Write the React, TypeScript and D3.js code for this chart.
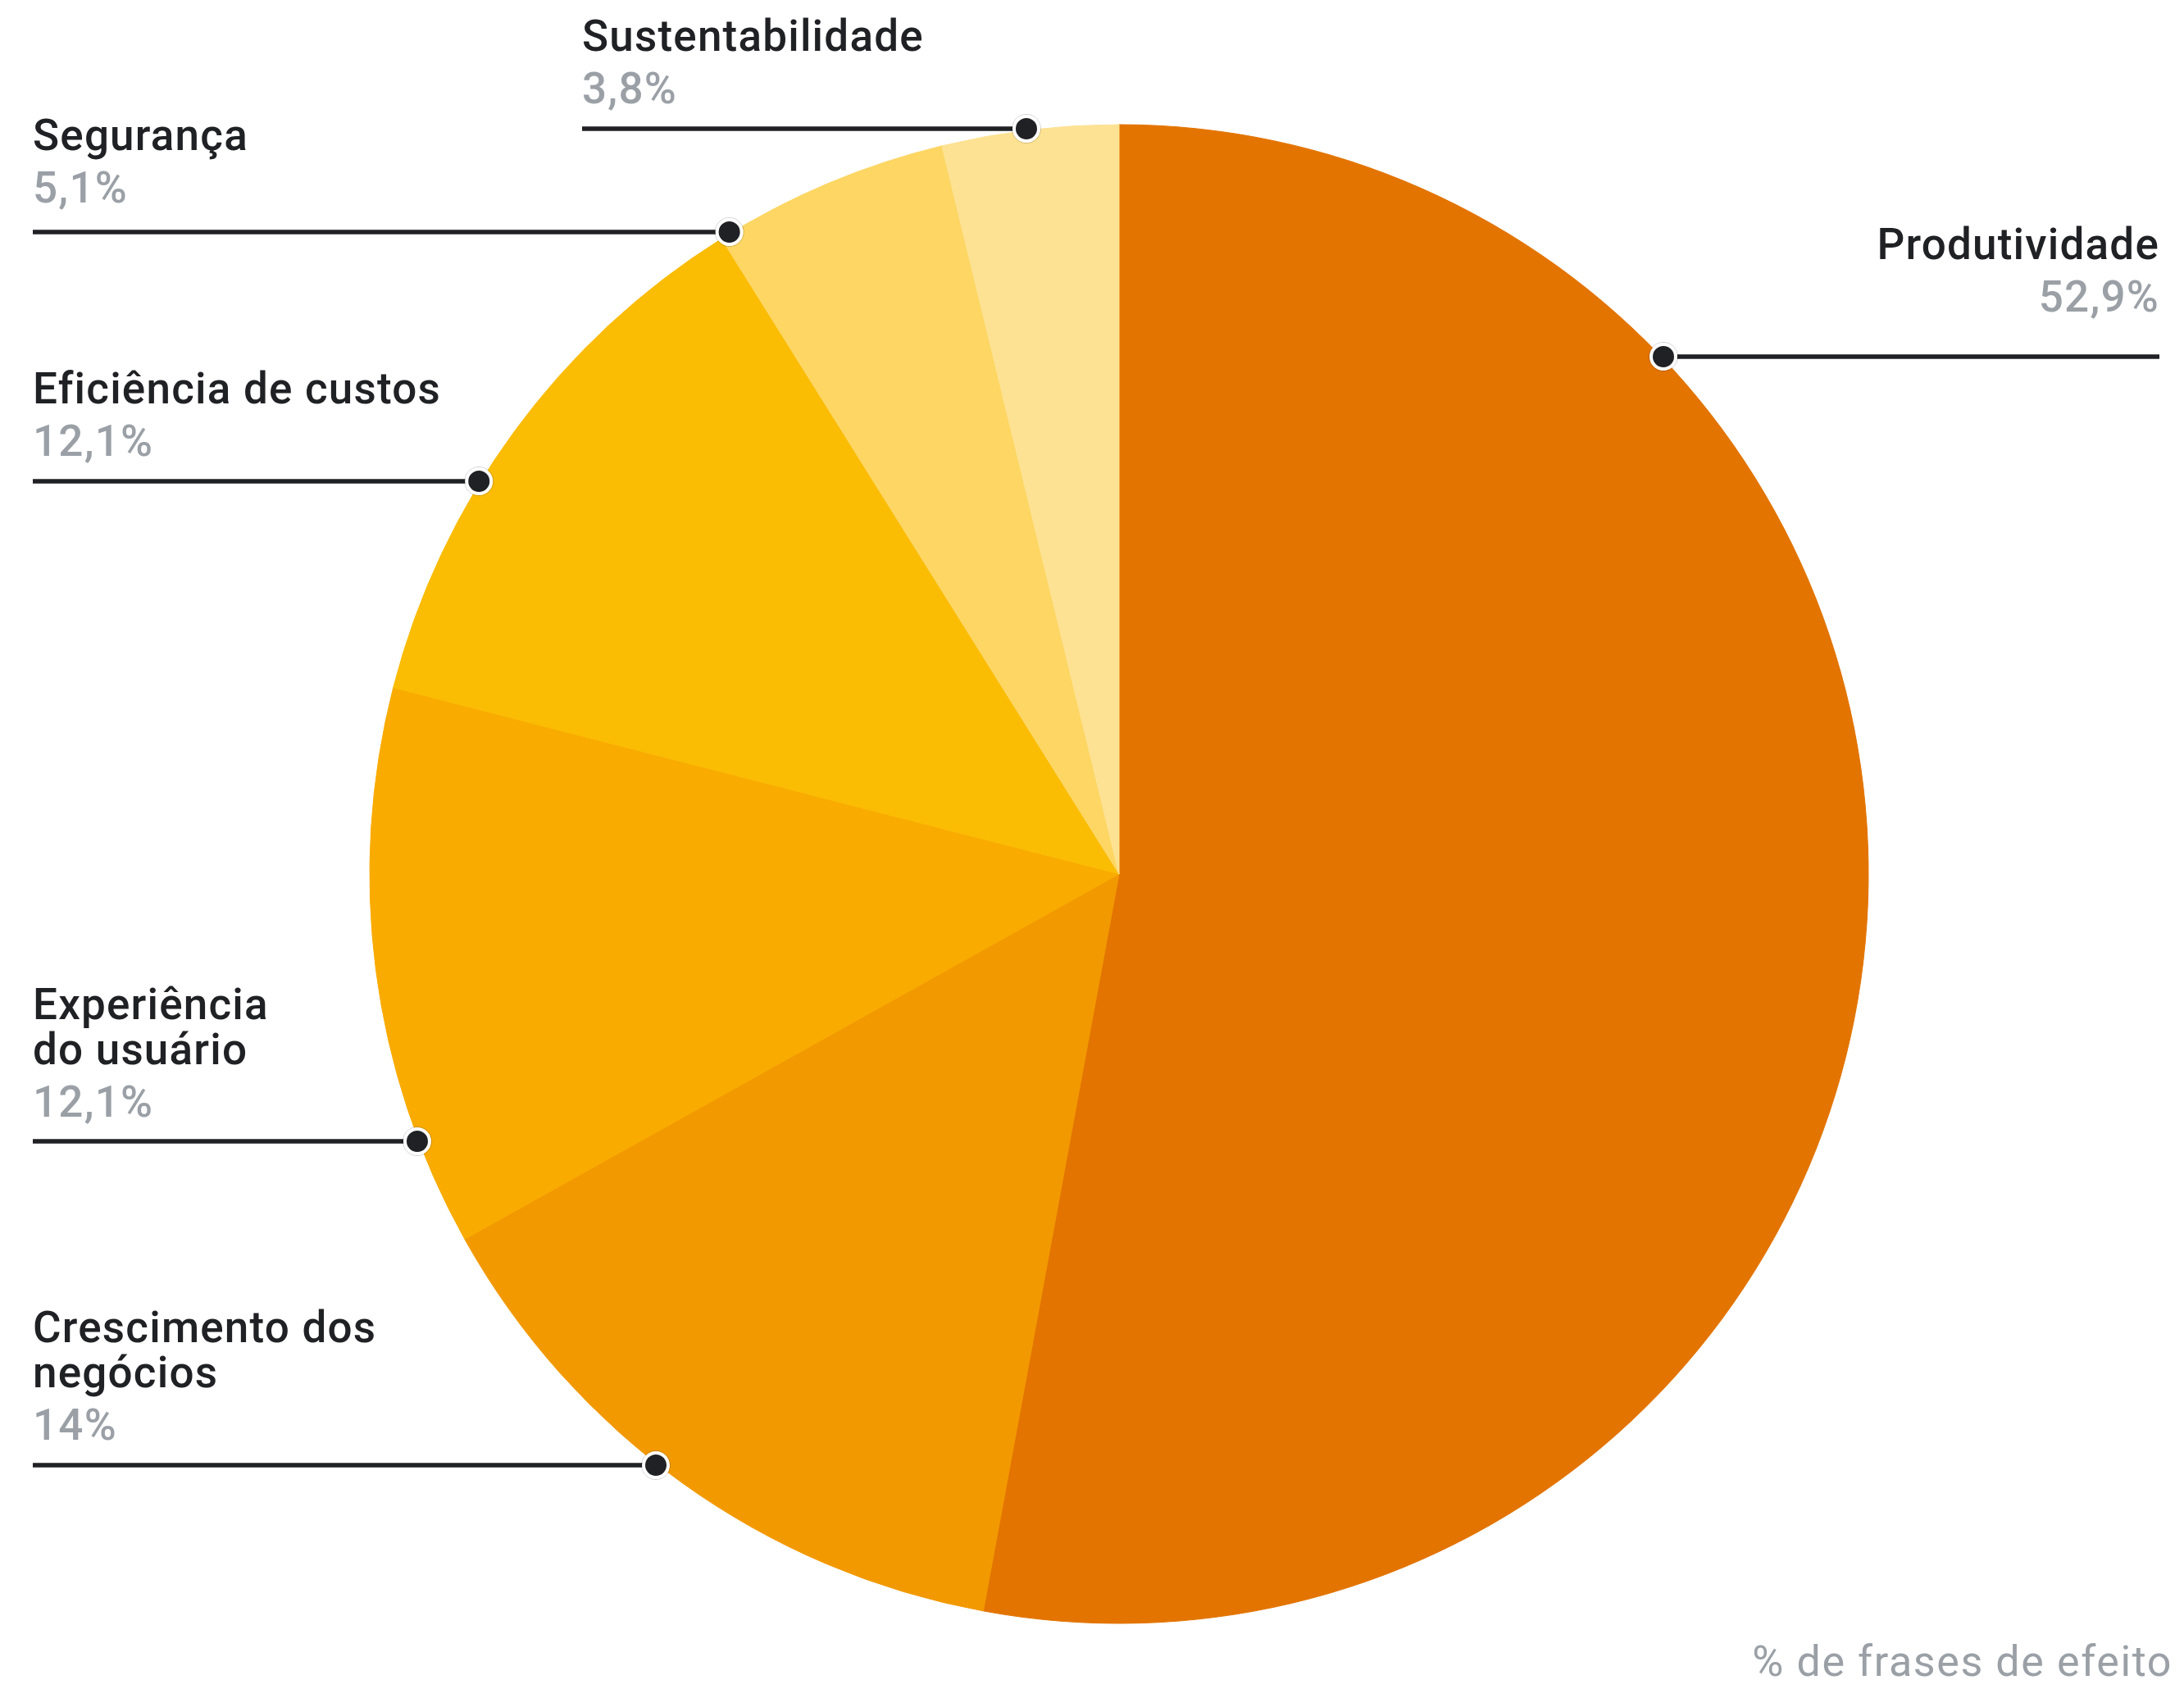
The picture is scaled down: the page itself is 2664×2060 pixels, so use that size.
import React from 'react';
import * as d3 from 'd3';

// ---- data ----
const categories = [
  'Produtividade',
  'Crescimento dos\nnegócios',
  'Experiência\ndo usuário',
  'Eficiência de custos',
  'Segurança',
  'Sustentabilidade',
];
const values = [52.9, 14, 12.1, 12.1, 5.1, 3.8];
const valueLabels = ['52,9%', '14%', '12,1%', '12,1%', '5,1%', '3,8%'];
const colors = ['#E37400', '#F29900', '#F9AB00', '#FBBC04', '#FDD663', '#FDE293'];
const footnote = '% de frases de efeito';

// ---- layout ----
const W = 2664;
const H = 2060;
const cx = 1365;
const cy = 1066;
const R = 914;
const dotR = 916;
const FONT = 'Roboto, "Noto Sans", sans-serif';
const FS = 53;

const labelLayout = [
  { side: 'right', lineY: 435, textX: 2634, valueGap: 55 },
  { side: 'left', lineY: 1787, textX: 40, valueGap: 31 },
  { side: 'left', lineY: 1392, textX: 40, valueGap: 30 },
  { side: 'left', lineY: 587, textX: 40, valueGap: 31 },
  { side: 'left', lineY: 283, textX: 40, valueGap: 36 },
  { side: 'left', lineY: 157, textX: 710, valueGap: 31 },
];

export default function App() {
  const pie = d3.pie<number>().sort(null).value((d) => d).startAngle(0).endAngle(2 * Math.PI);
  const arcs = pie(values);
  const arc = d3.arc<d3.PieArcDatum<number>>().innerRadius(0).outerRadius(R);

  return (
    <svg
      width={W}
      height={H}
      viewBox={`0 0 ${W} ${H}`}
      style={{ position: 'absolute', left: 0, top: 0, background: '#fff' }}
    >
      <rect x={0} y={0} width={W} height={H} fill="#fff" />
      <g transform={`translate(${cx},${cy})`}>
        {arcs.map((a, i) => (
          <path key={i} d={arc(a) || ''} fill={colors[i]} stroke={colors[i]} strokeWidth={1} />
        ))}
      </g>
      {labelLayout.map((l, i) => {
        const dy = l.lineY - cy;
        const dx = Math.sqrt(Math.max(0, dotR * dotR - dy * dy));
        const dotX = l.side === 'left' ? cx - dx : cx + dx;
        const lines = categories[i].split('\n');
        const valueY = l.lineY - l.valueGap;
        const lastTitleY = valueY - 64;
        const anchor = l.side === 'left' ? 'start' : 'end';
        const x1 = l.side === 'left' ? l.textX : dotX;
        const x2 = l.side === 'left' ? dotX : l.textX;
        return (
          <g key={i}>
            <line x1={x1} x2={x2} y1={l.lineY} y2={l.lineY} stroke="#202124" strokeWidth={5.5} />
            <circle cx={dotX} cy={l.lineY} r={17.5} fill="none" stroke="rgba(0,0,0,0.18)" strokeWidth={1} />
            <circle cx={dotX} cy={l.lineY} r={15} fill="#202124" stroke="#fff" strokeWidth={4} />
            {lines.map((t, j) => (
              <text
                key={j}
                x={l.textX}
                y={lastTitleY - (lines.length - 1 - j) * 55}
                textAnchor={anchor}
                fontFamily={FONT}
                fontWeight={500}
                fontSize={FS}
                letterSpacing={1.2}
                fill="#202124"
              >
                {t}
              </text>
            ))}
            <text
              x={l.textX}
              y={valueY}
              textAnchor={anchor}
              fontFamily={FONT}
              fontWeight={500}
              fontSize={FS}
              letterSpacing={1.2}
              fill="#9AA0A6"
            >
              {valueLabels[i]}
            </text>
          </g>
        );
      })}
      <text
        x={2650}
        y={2044}
        textAnchor="end"
        fontFamily={FONT}
        fontWeight={400}
        fontSize={52}
        letterSpacing={1.6}
        fill="#9AA0A6"
      >
        {footnote}
      </text>
    </svg>
  );
}
